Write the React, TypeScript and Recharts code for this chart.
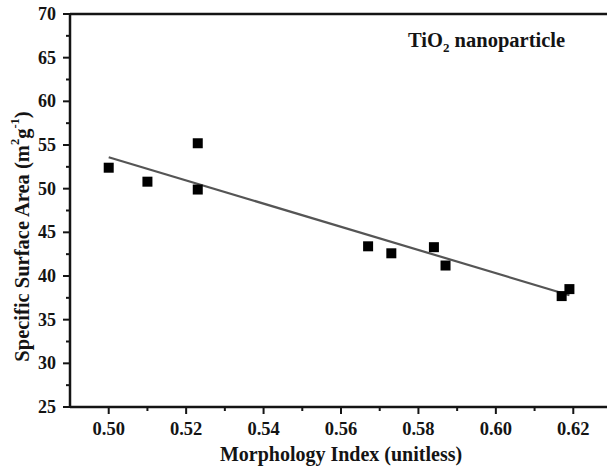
import React from "react";
import {
  ScatterChart,
  Scatter,
  XAxis,
  YAxis,
  ReferenceLine,
  Label,
} from "recharts";

// measured points (morphology index vs specific surface area)
const morphIndex = [0.5, 0.51, 0.523, 0.523, 0.567, 0.573, 0.584, 0.587, 0.617, 0.619];
const surfaceArea = [52.4, 50.8, 55.2, 49.9, 43.4, 42.6, 43.3, 41.2, 37.7, 38.5];

// linear fit endpoints
const fitX = [0.5, 0.619];
const fitY = [53.6, 37.8];

const xTicks = [0.5, 0.51, 0.52, 0.53, 0.54, 0.55, 0.56, 0.57, 0.58, 0.59, 0.6, 0.61, 0.62];
const yTicks = [25, 27.5, 30, 32.5, 35, 37.5, 40, 42.5, 45, 47.5, 50, 52.5, 55, 57.5, 60, 62.5, 65, 67.5, 70];

const FONT = "'Liberation Serif', 'Times New Roman', serif";
const INK = "#141414";

const points = morphIndex.map((x, i) => ({ x, y: surfaceArea[i] }));
const fitLine = fitX.map((x, i) => ({ x, y: fitY[i] }));

function XTick(props: any) {
  const { x, y, payload } = props;
  const v = payload.value as number;
  const major = Math.round(v * 100) % 2 === 0;
  return (
    <g>
      <line x1={x} y1={y} x2={x} y2={y + (major ? 7 : 4)} stroke={INK} strokeWidth={2} />
      {major && (
        <text x={x} y={y + 28} textAnchor="middle" fontFamily={FONT} fontWeight="bold" fontSize={18.5} fill={INK}>
          {v.toFixed(2)}
        </text>
      )}
    </g>
  );
}

function YTick(props: any) {
  const { x, y, payload } = props;
  const v = payload.value as number;
  const major = v % 5 === 0;
  return (
    <g>
      <line x1={x - (major ? 7 : 4)} y1={y} x2={x} y2={y} stroke={INK} strokeWidth={2} />
      {major && (
        <text x={x - 14} y={y + 6} textAnchor="end" fontFamily={FONT} fontWeight="bold" fontSize={18} fill={INK}>
          {v}
        </text>
      )}
    </g>
  );
}

function Square(props: any) {
  const { cx, cy } = props;
  if (cx == null || cy == null) return <g />;
  return <rect x={cx - 5} y={cy - 5} width={10} height={10} fill="#000" />;
}

function YTitle(props: any) {
  const vb = props.viewBox;
  const cx = vb.x + 22;
  const cy = vb.y + vb.height / 2 + 26;
  return (
    <text
      x={cx}
      y={cy}
      transform={`rotate(-90, ${cx}, ${cy})`}
      textAnchor="middle"
      dominantBaseline="central"
      fontFamily={FONT}
      fontWeight="bold"
      fontSize={20.5}
      fill={INK}
    >
      Specific Surface Area (m
      <tspan baselineShift="super" fontSize={12.5}>2</tspan>
      g
      <tspan baselineShift="super" fontSize={12.5}>-1</tspan>
      )
    </text>
  );
}

function XTitle(props: any) {
  const vb = props.viewBox;
  return (
    <text
      x={vb.x + vb.width / 2}
      y={461}
      textAnchor="middle"
      fontFamily={FONT}
      fontWeight="bold"
      fontSize={20}
      fill={INK}
    >
      Morphology Index (unitless)
    </text>
  );
}

export default function App() {
  return (
    <div
      style={{
        position: "absolute",
        left: 0,
        top: 0,
        width: 607,
        height: 470,
        overflow: "hidden",
        background: "#fff",
      }}
    >
      <ScatterChart width={612} height={470} margin={{ top: 14, right: 0, bottom: 0, left: 0 }}>
        <XAxis
          type="number"
          dataKey="x"
          domain={[0.49, 0.63]}
          ticks={xTicks}
          interval={0}
          allowDataOverflow
          height={63}
          tickSize={0}
          tickMargin={0}
          tickLine={false}
          tick={<XTick />}
          axisLine={{ stroke: INK, strokeWidth: 2.5 }}
        >
          <Label content={<XTitle />} />
        </XAxis>
        <YAxis
          type="number"
          dataKey="y"
          domain={[25, 70]}
          ticks={yTicks}
          interval={0}
          allowDataOverflow
          width={70}
          tickSize={0}
          tickMargin={0}
          tickLine={false}
          tick={<YTick />}
          axisLine={{ stroke: INK, strokeWidth: 2.5 }}
        >
          <Label content={<YTitle />} />
        </YAxis>
        <ReferenceLine y={70} stroke={INK} strokeWidth={2.5} />
        <ReferenceLine x={0.63} stroke={INK} strokeWidth={2.5} />
        <Scatter
          data={fitLine}
          line={{ stroke: "#555", strokeWidth: 2.2 }}
          shape={() => <g />}
          isAnimationActive={false}
        />
        <Scatter data={points} shape={<Square />} isAnimationActive={false} />
      </ScatterChart>
      <div
        style={{
          position: "absolute",
          left: 408,
          top: 29,
          fontFamily: FONT,
          fontWeight: "bold",
          fontSize: 20.5,
          color: INK,
          whiteSpace: "nowrap",
          lineHeight: "22px",
        }}
      >
        TiO<sub style={{ fontSize: 13 }}>2</sub> nanoparticle
      </div>
    </div>
  );
}
